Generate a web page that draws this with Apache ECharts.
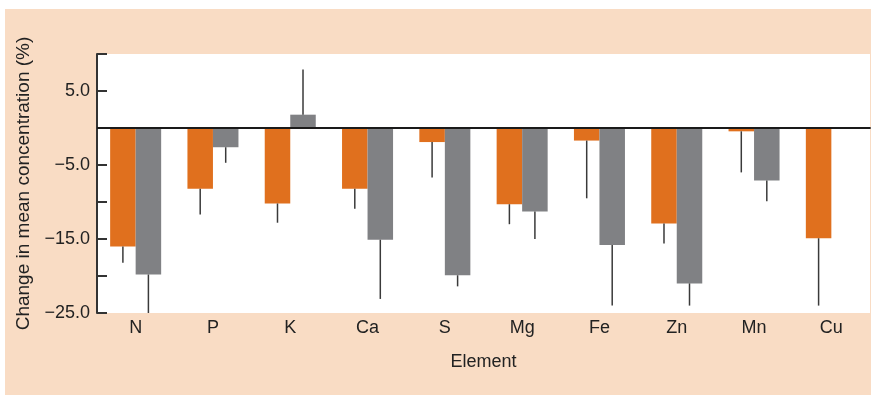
<!DOCTYPE html>
<html>
<head>
<meta charset="utf-8">
<script src="https://cdn.jsdelivr.net/npm/echarts@6/dist/echarts.min.js"></script>
<style>
html,body{margin:0;padding:0;background:#fff;}
#chart{width:872px;height:395px;}
</style>
</head>
<body>
<div id="chart"></div>
<script>
var categories = ['N','P','K','Ca','S','Mg','Fe','Zn','Mn','Cu'];
var seriesA = [-16.0, -8.2, -10.2, -8.2, -1.9, -10.3, -1.7, -12.9, -0.45, -14.9];
var errorsA = [2.2, 3.5, 2.6, 2.7, 4.8, 2.7, 7.8, 2.7, 5.55, 9.1];
var seriesB = [-19.8, -2.6, 1.8, -15.1, -19.9, -11.3, -15.8, -21.0, -7.1, null];
var errorsB = [5.2, 2.1, 6.1, 8.0, 1.5, 3.7, 8.2, 3.0, 2.8, null];
var yTickLabels = {'5': '5.0', '-5': '\u22125.0', '-15': '\u221215.0', '-25': '\u221225.0'};

var FONT = '"Liberation Sans", Arial, Helvetica, sans-serif';
var ORANGE = '#e0701e';
var GRAY = '#808184';
var PEACH = '#f9dcc4';
var GAP = 0.34;

function errData(vals, errs, side) {
  var out = [];
  for (var i = 0; i < vals.length; i++) {
    if (vals[i] == null || errs[i] == null) continue;
    var s = vals[i] >= 0 ? 1 : -1;
    out.push([i, vals[i], vals[i] + s * errs[i], side]);
  }
  return out;
}

function renderErr(params, api) {
  var cat = api.value(0);
  var p1 = api.coord([cat, api.value(1)]);
  var p2 = api.coord([cat, api.value(2)]);
  var catW = api.size([1, 0])[0];
  var barW = catW * (1 - GAP) / 2;
  var dx = api.value(3) * barW / 2;
  return {
    type: 'line',
    shape: {x1: p1[0] + dx, y1: p1[1], x2: p2[0] + dx, y2: p2[1]},
    style: {stroke: '#3a3a3a', lineWidth: 1.5}
  };
}

var chart = echarts.init(document.getElementById('chart'), null, {renderer: 'canvas'});
chart.setOption({
  animation: false,
  backgroundColor: '#ffffff',
  graphic: [{
    type: 'rect', z: -100, silent: true,
    shape: {x: 5, y: 9, width: 866, height: 386},
    style: {fill: PEACH}
  }],
  grid: {left: 97, right: 2, top: 54, bottom: 82, show: true, backgroundColor: '#ffffff', borderWidth: 0},
  xAxis: {
    type: 'category',
    data: categories,
    name: 'Element',
    nameLocation: 'middle',
    nameGap: 40,
    nameTextStyle: {fontFamily: FONT, fontSize: 18, color: '#222'},
    axisLine: {show: true, lineStyle: {color: '#333', width: 2}},
    axisTick: {show: false},
    axisLabel: {fontFamily: FONT, fontSize: 18, color: '#222', margin: 6}
  },
  yAxis: {
    type: 'value',
    min: -25, max: 10, interval: 5,
    name: 'Change in mean concentration (%)',
    nameLocation: 'middle',
    nameGap: 59,
    nameTextStyle: {fontFamily: FONT, fontSize: 19, color: '#222'},
    axisLine: {show: true, lineStyle: {color: '#333', width: 2}},
    axisTick: {show: true, inside: true, length: 10, lineStyle: {color: '#333', width: 2}},
    splitLine: {show: false},
    axisLabel: {
      fontFamily: FONT, fontSize: 18, color: '#222', margin: 7,
      formatter: function (v) { var k = String(Math.round(v)); return yTickLabels[k] || ''; }
    }
  },
  series: [
    {
      type: 'bar', data: seriesA, barGap: '0%', barCategoryGap: (GAP * 100) + '%',
      itemStyle: {color: ORANGE}, z: 2,
      markLine: {
        silent: true, symbol: 'none', label: {show: false},
        lineStyle: {color: '#1a1a1a', width: 2, type: 'solid'},
        data: [{yAxis: 0}]
      }
    },
    {
      type: 'bar', data: seriesB, barGap: '0%', barCategoryGap: (GAP * 100) + '%',
      itemStyle: {color: GRAY}, z: 2
    },
    {type: 'custom', renderItem: renderErr, data: errData(seriesA, errorsA, -1), z: 3, encode: {x: 0, y: [1, 2]}},
    {type: 'custom', renderItem: renderErr, data: errData(seriesB, errorsB, 1), z: 3, encode: {x: 0, y: [1, 2]}}
  ]
});
</script>
</body>
</html>
